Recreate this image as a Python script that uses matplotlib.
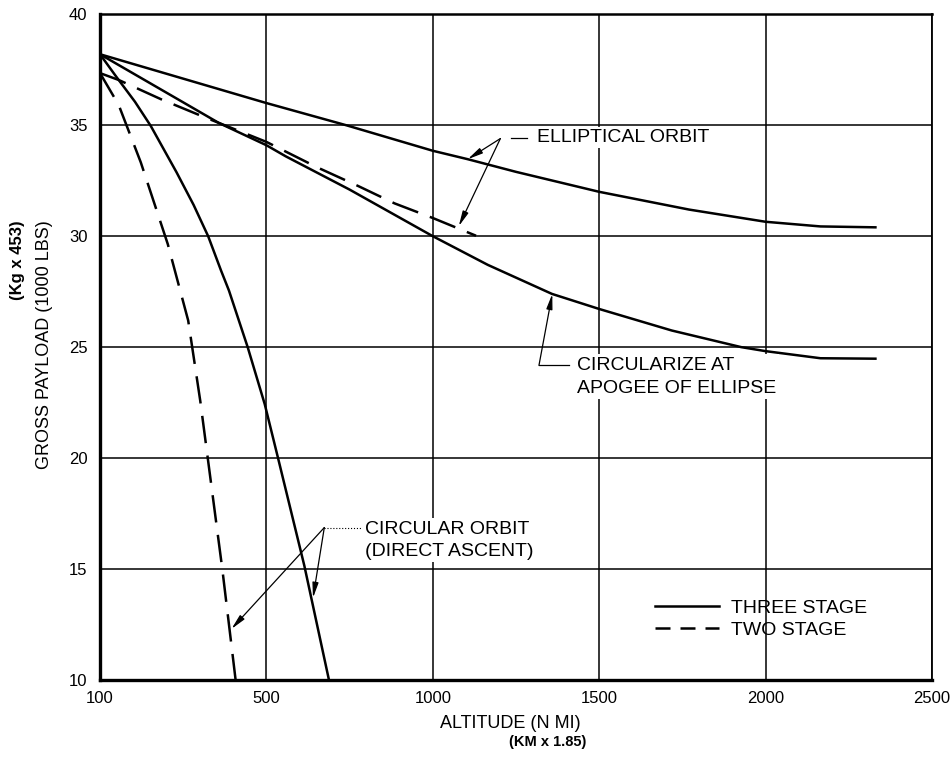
import numpy as np
import matplotlib
matplotlib.use('Agg')
import matplotlib.pyplot as plt
from matplotlib.lines import Line2D

plt.rcParams['font.family'] = ['Liberation Sans', 'DejaVu Sans']

# Tick values (the x axis gives each interval the same width)
x_ticks = [100, 500, 1000, 1500, 2000, 2500]
y_ticks = [10, 15, 20, 25, 30, 35, 40]

# Three stage, elliptical orbit
three_ell_x = [100, 300, 500, 740, 1000, 1105, 1250, 1500, 1770, 2000, 2165, 2330]
three_ell_y = [38.2, 37.1, 36.0, 35.0, 33.85, 33.47, 32.9, 32.0, 31.2, 30.65, 30.44, 30.4]

# Three stage, circularize at apogee of ellipse
three_circ_x = [100, 386, 500, 558, 750, 1000, 1165, 1358, 1500, 1718, 1927, 2000, 2165, 2330]
three_circ_y = [38.2, 35.1, 34.1, 33.6, 32.1, 30.0, 28.71, 27.4, 26.72, 25.75, 25.0, 24.82, 24.5, 24.48]

# Two stage, elliptical orbit
two_ell_x = [100, 145, 247, 349, 500, 653, 776, 885, 1000, 1130]
two_ell_y = [37.35, 37.04, 36.17, 35.38, 34.25, 33.1, 32.26, 31.48, 30.82, 30.02]

# Three stage, circular orbit (direct ascent)
three_dir_x = [100, 139, 184, 222, 284, 325, 360, 391, 410, 455, 496, 535, 614, 688]
three_dir_y = [38.2, 37.19, 36.06, 34.97, 32.88, 31.41, 30.0, 28.45, 27.55, 25.0, 22.43, 20.0, 15.15, 10.0]

# Two stage, circular orbit (direct ascent)
two_dir_x = [100, 145, 198, 263, 312, 341, 394, 426]
two_dir_y = [37.35, 35.91, 33.33, 29.64, 26.2, 22.58, 15.0, 10.0]


def fwd(x):
    x = np.asarray(x, dtype=float)
    return np.where(x < 500, (x - 100) / 400.0, 1 + (x - 500) / 500.0)


def inv(p):
    p = np.asarray(p, dtype=float)
    return np.where(p < 1, 100 + 400 * p, 500 + 500 * (p - 1))


fig = plt.figure(figsize=(9.5, 7.71), dpi=100)
ax = fig.add_axes([100 / 950, 1 - 680 / 771, 832 / 950, (680 - 14.3) / 771])
ax.set_xscale('function', functions=(fwd, inv))
ax.set_xlim(100, 2500)
ax.set_ylim(10, 40)
ax.set_xticks(x_ticks)
ax.set_yticks(y_ticks)
ax.grid(True, color='black', linewidth=1.1, zorder=0)
ax.set_axisbelow(True)
ax.tick_params(length=0, labelsize=12, pad=8)
ax.tick_params(axis='y', pad=9)

for side, lw in [('left', 2.4), ('bottom', 2.4), ('top', 1.8), ('right', 1.3)]:
    ax.spines[side].set_linewidth(lw)

lw = 1.8
dash = (0, (11, 5))
ax.plot(three_ell_x, three_ell_y, color='black', lw=lw, zorder=3)
ax.plot(three_circ_x, three_circ_y, color='black', lw=lw, zorder=3)
ax.plot(two_ell_x, two_ell_y, color='black', lw=lw, ls=dash, zorder=3)
ax.plot(three_dir_x, three_dir_y, color='black', lw=lw, zorder=3)
ax.plot(two_dir_x, two_dir_y, color='black', lw=lw, ls=dash, zorder=3)

arrow = dict(arrowstyle='-|>,head_length=0.9,head_width=0.18', color='black',
             lw=0.9, shrinkA=0, shrinkB=0)
box = dict(facecolor='white', edgecolor='none', pad=1.5)

# Elliptical orbit callout
ax.text(1312, 34.45, 'ELLIPTICAL ORBIT', fontsize=14, va='center', ha='left',
        bbox=box, zorder=4)
ax.plot([1236, 1282], [34.42, 34.42], color='black', lw=0.9, zorder=4)
ax.annotate('', xy=(1105, 33.47), xytext=(1203, 34.4), arrowprops=arrow, zorder=4)
ax.annotate('', xy=(1078, 30.45), xytext=(1203, 34.4), arrowprops=arrow, zorder=4)

# Circularize callout
ax.text(1434, 23.66, 'CIRCULARIZE AT\nAPOGEE OF ELLIPSE', fontsize=14, va='center',
        ha='left', linespacing=1.5, bbox=box, zorder=4)
ax.plot([1410, 1319], [24.18, 24.18], color='black', lw=0.9, zorder=4)
ax.annotate('', xy=(1359, 27.4), xytext=(1319, 24.18), arrowprops=arrow, zorder=4)

# Circular orbit callout
ax.text(795, 16.3, 'CIRCULAR ORBIT\n(DIRECT ASCENT)', fontsize=14, va='center',
        ha='left', linespacing=1.4, bbox=box, zorder=4)
ax.plot([674, 785], [16.87, 16.87], color='black', lw=0.8, ls=':', zorder=4)
ax.annotate('', xy=(416, 12.3), xytext=(674, 16.87), arrowprops=arrow, zorder=4)
ax.annotate('', xy=(640, 13.7), xytext=(674, 16.87), arrowprops=arrow, zorder=4)

handles = [Line2D([], [], color='black', lw=lw),
           Line2D([], [], color='black', lw=lw, ls=(0, (6, 4)))]
ax.legend(handles, ['THREE STAGE', 'TWO STAGE'], loc='upper left',
          bbox_to_anchor=((655 - 100) / 832, (680 - 599) / 665.7),
          frameon=False, fontsize=14, handlelength=3.3, handletextpad=0.6,
          labelspacing=0.25, borderpad=0, borderaxespad=0)

fig.text(45 / 950, 1 - 345 / 771, 'GROSS PAYLOAD (1000 LBS)', rotation=90,
         fontsize=13, ha='center', va='center')
fig.text(18 / 950, 1 - 260 / 771, '(Kg x 453)', rotation=90, fontsize=12,
         fontweight='bold', ha='center', va='center')
fig.text(510 / 950, 1 - 723 / 771, 'ALTITUDE (N MI)', fontsize=13,
         ha='center', va='center')
fig.text(548 / 950, 1 - 742 / 771, '(KM x 1.85)', fontsize=10.5,
         fontweight='bold', ha='center', va='center')

fig.savefig('out.png', dpi=100)
